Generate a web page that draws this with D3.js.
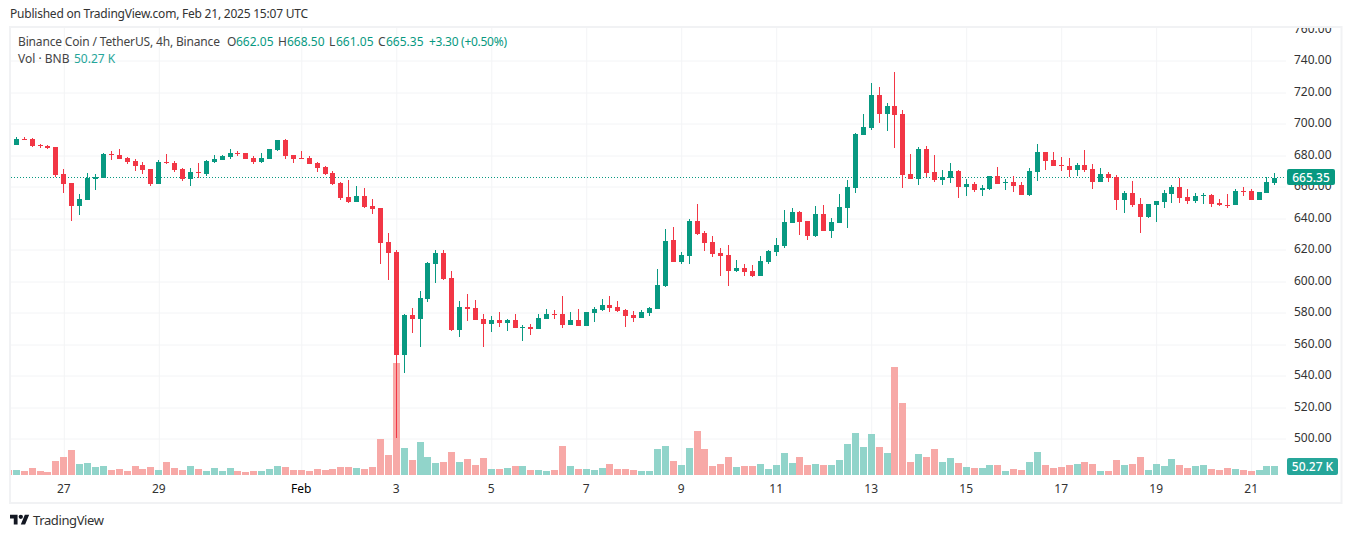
<!DOCTYPE html>
<html>
<head>
<meta charset="utf-8">
<script src="https://cdn.jsdelivr.net/npm/d3@7"></script>
<style>
  html, body { margin: 0; padding: 0; background: #fff; }
  text { font-family: "Noto Sans", sans-serif; }
</style>
</head>
<body>
<div id="chart"></div>
<script>
// 4h candles
const opens = [
  688.3,686.4,690.2,690.2,686.2,685.5,684.9,667.8,662.1,647.5,
  651.3,664.6,665.2,680.5,679.8,677.9,676,673.5,670.9,661.4,
  675.4,674.7,670.9,664.6,669,667.8,675.4,676.6,678.6,681.1,
  681.1,677.9,675.4,677.3,683,689.3,679.8,677.9,677.9,674.7,
  672.2,668.4,662.1,653.2,650,653.8,647.5,646.2,624.6,618.3,
  552.9,578.3,575.7,588.4,610.6,617.6,601.8,568.8,583.3,582.7,
  575.7,572.6,575.1,573.2,575.1,570,570.7,569.4,575.7,578.9,
  578.9,571.9,575.1,571.3,579.5,581.4,584.6,583.3,581.4,578.3,
  576.4,579.5,582.1,596.7,625.9,611.9,615.7,637.9,630.3,624.6,
  617.6,616.4,606.2,608.1,606.2,603,611.9,618.3,622.1,636.7,
  643.6,637.9,628.4,642.4,631.6,636.7,646.2,658.9,692.5,697,
  717.9,705.8,710.9,705.8,667.8,664.6,683.6,669,664,665.2,
  669.7,659.5,661.4,657.6,658.2,666.5,662.1,662.7,660.8,654.4,
  669,681.7,676.6,673.5,672.8,670.3,673.5,670.9,662.7,667.8,
  665.9,651.3,655.7,648.7,640.5,648.1,650,655.1,659.5,653.2,
  650.6,653.8,654.4,649.4,648.1,648.1,657,657,651.3,655.7,662.05,
];
const highs = [
  689,691.2,691.4,690.6,687,686.2,684.9,670.9,662.1,655.1,
  668.4,667.8,681.1,682.4,683.6,678.6,677.3,675.4,670.9,676.6,
  680.5,676,671.6,671.6,674.7,676.6,679.8,679.8,683.6,682.4,
  681.1,679.2,681.1,683.6,689.3,690,679.8,682.4,679.2,675.4,
  672.8,669.7,662.7,664,660.1,658.9,651.9,646.2,630.3,619.5,
  578.9,582.7,593.5,611.9,619.5,619.5,606.2,587.2,591.6,587.8,
  578.9,577.6,580.2,575.7,578.9,571.9,572.6,578.9,582.1,581.4,
  590.3,580.2,582.1,580.2,583.3,588.4,590.3,587.2,582.1,580.8,
  581.4,583.3,607.5,632.9,634.1,618.3,639.2,648.7,631.6,628.4,
  620.8,622.7,613.2,610.6,610,615.7,619.5,627.1,644.9,646.2,
  644.3,637.9,647.5,648.1,639.8,655.1,664,693.8,705.8,725.5,
  723,712.8,732.5,708.4,680.5,684.9,685.5,679.8,670.3,674.7,
  670.3,664.6,662.7,660.8,666.5,672.2,664.6,666.5,662.7,671.6,
  686.9,681.7,681.7,678.6,677.9,674.7,683,674.1,671.6,669,
  667.1,657,663.3,652.5,648.7,650.6,657.6,660.8,665.2,658.2,
  655.7,655.7,655.1,651.9,655.1,658.2,659.5,658.2,656.3,665.9,668.5,
];
const lows = [
  685.5,686.4,689.3,685.1,684.3,683.6,665.9,655.7,637.9,641.7,
  651.3,657.6,665.2,676.6,677.3,674.1,669.7,667.8,660.1,661.4,
  674.1,669,663.3,660.1,665.2,666.5,674.7,676.6,677.3,679.2,
  677.3,674.1,674.7,677.3,682.4,677.3,674.7,677.3,674.1,669,
  667.1,660.8,651.3,649.4,650,646.2,642.4,610.6,600.5,500.2,
  541.6,566.9,558,586.5,598.6,600.5,568.1,564.3,574.5,575.1,
  558,567.5,570.7,568.1,570,561.8,565.6,569.4,575.7,575.7,
  570,571.9,571.3,571.3,573.8,580.8,580.2,580.2,570.7,573.8,
  576.4,577.6,582.1,596,611.9,610.6,610.6,629,618.9,615.1,
  603,596.7,605.6,603,602.4,603,610.6,615.7,620.8,636.7,
  629,625.9,627.8,631.6,627.1,636.7,633.5,655.7,692.5,695.7,
  700.1,695.1,684.3,658.9,664.6,660.8,665.9,662.7,660.8,662.1,
  652.5,653.8,656.3,653.8,657.6,661.4,657.6,656.3,654.4,653.8,
  663.3,670.3,672.8,669.7,665.9,666.5,669,658.2,662.7,662.7,
  644.9,643,646.8,630.3,639.8,637.3,646.2,649.4,649.4,648.7,
  649.4,648.7,646.8,647.5,646.2,648.1,653.8,651.3,651.3,655.7,661.05,
];
const closes = [
  686.2,689.8,689.5,685.7,685.5,684.3,667.3,661.4,647.5,651.9,
  665.4,665.9,680.5,679.8,677.3,675.4,672.8,670.3,661.4,675.4,
  674.7,670.3,664.6,669,668.4,676,677.3,679.2,681.1,680.5,
  677.3,675.4,677.9,683.6,689.3,679.2,677.3,677.3,674.1,671.6,
  667.8,661.4,652.5,650,653.8,646.8,645.5,624,617.6,552.9,
  578.3,575.7,589.1,611.3,617.6,601.1,568.8,583.3,582.1,575.1,
  572.6,575.1,573.2,575.1,570,570.7,569.4,576.4,578.9,578.3,
  571.9,575.1,571.3,580.2,582.1,584.6,582.7,580.8,577.6,576.4,
  580.2,582.7,597.3,625.2,611.9,616.4,637.9,629.7,624,617,
  615.7,606.2,608.1,605.6,603,612.5,618.9,622.7,637.3,643.6,
  637.3,628.4,642.4,631.6,637.3,646.8,659.5,693.2,697.6,717.9,
  705.8,710.9,705.2,667.1,664.6,683.6,668.4,664,665.9,669.7,
  659.5,661.4,657.6,658.9,666.5,661.4,662.7,660.1,654.4,669.7,
  681.7,676,672.8,672.8,670.3,673.5,670.3,662.7,667.8,665.2,
  651.3,655.7,648.1,640.5,648.7,650.6,655.7,659.5,652.5,650.6,
  653.8,654.4,648.7,648.1,647.5,657,656.3,651.3,656.3,662.7,665.35,
];
// volume in thousands of BNB
const volumes = [
  27.9,27.9,22.3,39,22.3,16.7,78,100.3,139.3,61.3,
  66.9,44.6,50.1,27.9,33.4,22.3,50.1,33.4,44.6,27.9,
  72.4,39,27.9,50.1,33.4,22.3,39,22.3,39,22.3,
  16.7,22.3,22.3,33.4,50.1,44.6,27.9,27.9,22.3,33.4,
  27.9,33.4,44.6,44.6,39,33.4,44.6,200.6,111.4,624,
  150.4,83.6,183.8,100.3,66.9,72.4,128.1,72.4,89.1,55.7,
  94.7,33.4,33.4,39,50.1,50.1,27.9,27.9,22.3,27.9,
  161.6,50.1,33.4,33.4,27.9,39,61.3,33.4,33.4,27.9,
  22.3,22.3,144.8,161.6,78,55.7,150.4,245.1,144.8,50.1,
  61.3,100.3,44.6,50.1,50.1,61.3,33.4,55.7,122.6,66.9,
  100.3,55.7,61.3,55.7,55.7,83.6,172.7,234,156,228.4,
  156,122.6,601.7,401,72.4,117,100.3,144.8,72.4,94.7,
  66.9,44.6,39,39,55.7,55.7,22.3,33.4,27.9,72.4,
  128.1,55.7,39,44.6,55.7,61.3,72.4,61.3,22.3,22.3,
  83.6,55.7,61.3,100.3,27.9,61.3,50.1,89.1,55.7,39,
  50.1,55.7,33.4,27.9,39,33.4,27.9,22.3,27.9,50.1,50.27,
];

const priceTicks = [760, 740, 720, 700, 680, 660, 640, 620, 600, 580, 560, 540, 520, 500];
const timeTicks = [7, 19, 37, 49, 61, 73, 85, 97, 109, 121, 133, 145, 157];
const timeLabels = ["27", "29", "Feb", "3", "5", "7", "9", "11", "13", "15", "17", "19", "21"];

const upColor = "#089981";
const downColor = "#f23645";
const gridColor = "#f3f4f6";
const lastPrice = closes[closes.length - 1];
const lastVolume = volumes[volumes.length - 1];

const width = 1352;
const height = 538;
const plotRight = 1286;
const plotBottom = 475;

const svg = d3
  .select("#chart")
  .append("svg")
  .attr("width", width)
  .attr("height", height)
  .style("display", "block");

// Scales
const x = d3.scaleLinear().domain([0, closes.length - 1]).range([7.9, 1274.4]);
const y = d3.scaleLinear().domain([500, 720]).range([438.3, 91.7]);
const volY = d3.scaleLinear().domain([0, 624]).range([plotBottom, 363]);

const defs = svg.append("defs");
defs.append("clipPath").attr("id", "plot-clip")
  .append("rect").attr("x", 11).attr("y", 28).attr("width", plotRight - 11).attr("height", plotBottom - 28);
defs.append("clipPath").attr("id", "axis-clip")
  .append("rect").attr("x", plotRight).attr("y", 28).attr("width", 54).attr("height", 474);

// Outer frame
svg.append("rect")
  .attr("x", 10).attr("y", 27).attr("width", 1331.5).attr("height", 476)
  .attr("fill", "none").attr("stroke", "#f1f2f4").attr("stroke-width", 2);

// Grid, from the axes' own ticks
const gridY = svg.append("g")
  .attr("transform", `translate(${plotRight},0.5)`)
  .call(d3.axisLeft(y).tickValues(priceTicks).tickSize(plotRight - 11).tickFormat(""));
gridY.select(".domain").remove();
gridY.selectAll("line").attr("stroke", gridColor).attr("transform", (d) => `translate(0,${Math.round(y(d)) - y(d)})`);
gridY.selectAll(".tick").filter((d) => d === 760).remove();

const gridX = svg.append("g")
  .attr("transform", `translate(0.5,${plotBottom})`)
  .call(d3.axisTop(x).tickValues(timeTicks).tickSize(plotBottom - 28).tickFormat(""));
gridX.select(".domain").remove();
gridX.selectAll("line").attr("stroke", gridColor);

const plot = svg.append("g").attr("clip-path", "url(#plot-clip)");

// Volume bars
plot.append("g")
  .selectAll("rect")
  .data(volumes)
  .join("rect")
  .attr("x", (d, i) => Math.round(x(i) - 3))
  .attr("width", 7)
  .attr("y", (d) => Math.round(volY(d)))
  .attr("height", (d) => plotBottom - Math.round(volY(d)))
  .attr("fill", (d, i) => (closes[i] >= opens[i] ? "#91d4ca" : "#f7a9a7"));

// Last price line
const lastY = Math.floor(y(lastPrice));
plot.append("line")
  .attr("x1", 11).attr("x2", plotRight)
  .attr("y1", lastY + 0.5).attr("y2", lastY + 0.5)
  .attr("stroke", upColor).attr("stroke-dasharray", "1 2");

// Candles
const candles = plot.append("g").selectAll("g").data(closes).join("g")
  .attr("fill", (d, i) => (closes[i] >= opens[i] ? upColor : downColor));
candles.append("rect")
  .attr("x", (d, i) => Math.round(x(i)))
  .attr("width", 1)
  .attr("y", (d, i) => Math.round(y(highs[i])))
  .attr("height", (d, i) => Math.round(y(lows[i])) - Math.round(y(highs[i])));
candles.append("rect")
  .attr("x", (d, i) => Math.round(x(i)) - 2)
  .attr("width", 5)
  .attr("y", (d, i) => Math.round(y(Math.max(opens[i], closes[i]))))
  .attr("height", (d, i) =>
    Math.max(1, Math.round(y(Math.min(opens[i], closes[i]))) - Math.round(y(Math.max(opens[i], closes[i]))))
  );

// Price axis, the top label is cut by the frame
const yAxis = svg.append("g")
  .attr("clip-path", "url(#axis-clip)")
  .append("g")
  .attr("transform", "translate(1294,-0.5)")
  .call(d3.axisRight(y).tickValues(priceTicks).tickSize(0).tickPadding(0).tickFormat(d3.format(".2f")));
yAxis.select(".domain").remove();
yAxis.selectAll("text").attr("fill", "#333").style("font-size", "12px");

// Time axis
const xAxis = svg.append("g")
  .attr("transform", "translate(0,484)")
  .call(d3.axisBottom(x).tickValues(timeTicks).tickSize(0).tickPadding(0).tickFormat((d, i) => timeLabels[i]));
xAxis.select(".domain").remove();
xAxis.selectAll("text")
  .attr("fill", (d, i) => (timeLabels[i] === "Feb" ? "#000" : "#333"))
  .style("font-size", "12px");

// Last value labels on the price axis
function axisLabel(top, h, w, fill, label) {
  svg.append("rect")
    .attr("x", 1287).attr("y", top).attr("width", w).attr("height", h)
    .attr("rx", 2).attr("fill", fill);
  svg.append("text")
    .attr("x", 1287 + w / 2).attr("y", top + h / 2 + 4.5)
    .attr("text-anchor", "middle").attr("fill", "#fff")
    .style("font-size", "12px").style("font-weight", 500)
    .text(label);
}
axisLabel(lastY - 8, 16, 48, upColor, d3.format(".2f")(lastPrice));
axisLabel(458, 17, 51, "#26a69a", `${lastVolume.toFixed(2)} K`);

// Header text
svg.append("text").attr("x", 10).attr("y", 18).attr("fill", "#333").style("font-size", "12px")
  .attr("textLength", 298).attr("lengthAdjust", "spacing")
  .text("Published on TradingView.com, Feb 21, 2025 15:07 UTC");

function legend(px, py, color, label) {
  return svg.append("text").attr("x", px).attr("y", py).attr("fill", color).style("font-size", "12px").text(label);
}
legend(18, 46, "#444", "Binance Coin / TetherUS, 4h, Binance")
  .attr("textLength", 202).attr("lengthAdjust", "spacing");
legend(227, 46, "#444", "O");
legend(236, 46, upColor, d3.format(".2f")(opens[160]));
legend(278, 46, "#444", "H");
legend(287, 46, upColor, d3.format(".2f")(highs[160]));
legend(329, 46, "#444", "L");
legend(336, 46, upColor, d3.format(".2f")(lows[160]));
legend(378, 46, "#444", "C");
legend(386, 46, upColor, d3.format(".2f")(lastPrice));
legend(429, 46, upColor, "+3.30 (+0.50%)").attr("textLength", 78).attr("lengthAdjust", "spacing");
legend(18, 63, "#444", "Vol · BNB");
legend(74, 63, "#26a69a", `${lastVolume.toFixed(2)} K`);

// TradingView mark
const logo = svg.append("g").attr("transform", "translate(10,512.5) scale(0.54)").attr("fill", "#131722");
logo.append("path").attr("d", "M14 22H7V11H0V4h14v18zM28 22h-8l7.5-18h8L28 22z");
logo.append("circle").attr("cx", 20).attr("cy", 8).attr("r", 4);
svg.append("text").attr("x", 33).attr("y", 525).attr("fill", "#333").style("font-size", "13px")
  .attr("textLength", 71).attr("lengthAdjust", "spacing").text("TradingView");
</script>
</body>
</html>
